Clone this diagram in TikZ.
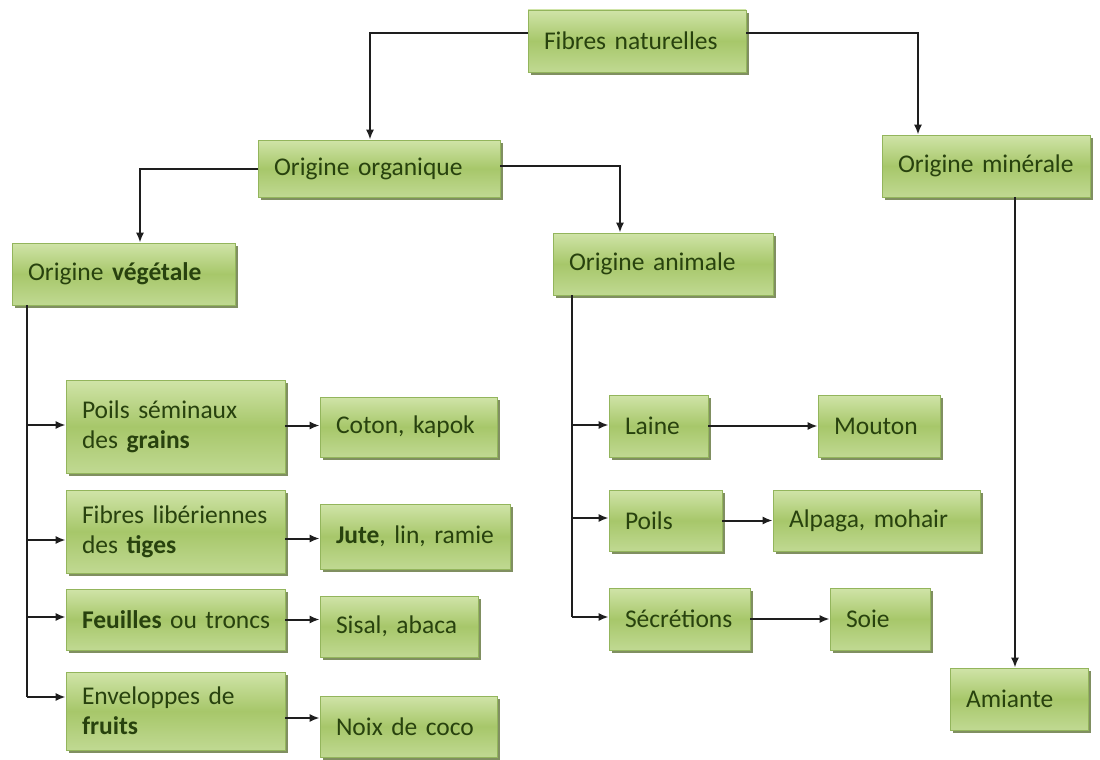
\documentclass[tikz,border=0pt]{standalone}
\usepackage{fontspec}
\setmainfont{Carlito}[WordSpace=0.7]
\usetikzlibrary{arrows.meta,shadows}
\definecolor{boxtop}{HTML}{D0E4A8}
\definecolor{boxmid}{HTML}{A7C76A}
\definecolor{boxbot}{HTML}{C0D992}
\definecolor{boxline}{HTML}{93B55C}
\definecolor{boxshadow}{HTML}{55692C}
\definecolor{boxtext}{HTML}{28420E}
\definecolor{wire}{HTML}{1E1E1E}
\tikzset{
  box/.style n args={2}{
    shade, top color=boxtop, bottom color=boxbot, middle color=boxmid,
    draw=boxline, line width=0.6pt,
    drop shadow={shadow xshift=3pt, shadow yshift=-3pt, fill=boxshadow, opacity=0.75},
    minimum width=#1, minimum height=#2, text width=#1-32pt,
    inner xsep=16pt, inner ysep=0pt, align=left,
    text=boxtext, font=\fontsize{25.5}{30}\selectfont
  },
  wire/.style={draw=wire, line width=2pt},
  arr/.style={wire, -{Latex[length=10pt,width=8pt]}}
}
\begin{document}
\begin{tikzpicture}[x=1pt,y=-1pt]
\useasboundingbox (0,0) rectangle (1100,760);

% top levels
\node[box={218pt}{62pt}] (fn)  at (637,41)    {Fibres naturelles};
\node[box={242pt}{57pt}] (org) at (379,168.5) {Origine organique};
\node[box={208pt}{62pt}] (min) at (986,166)   {Origine minérale};
\node[box={223pt}{62pt}] (veg) at (123.5,274) {Origine \textbf{végétale}};
\node[box={220pt}{62pt}] (ani) at (663,264)   {Origine animale};

% vegetable fibres
\node[box={219pt}{93pt}] (psg) at (175.5,426.5) {Poils séminaux\\des \textbf{grains}};
\node[box={177pt}{60pt}] (cot) at (408.5,427)   {Coton, kapok};
\node[box={219pt}{83pt}] (fli) at (175.5,531.5) {Fibres libériennes\\des \textbf{tiges}};
\node[box={190pt}{65pt}] (jut) at (415,536.5)   {\textbf{Jute}, lin, ramie};
\node[box={219pt}{61pt}] (feu) at (175.5,619.5) {\mbox{\textbf{Feuilles} ou troncs}};
\node[box={158pt}{61pt}] (sis) at (399,626.5)   {Sisal, abaca};
\node[box={219pt}{78pt}] (env) at (175.5,711)   {Enveloppes de\\\textbf{fruits}};
\node[box={177pt}{61pt}] (noi) at (408.5,726.5) {Noix de coco};

% animal fibres
\node[box={99pt}{62pt}]  (lai) at (658.5,426) {Laine};
\node[box={122pt}{62pt}] (mou) at (879,426)   {Mouton};
\node[box={113pt}{61pt}] (poi) at (665.5,520.5) {Poils};
\node[box={207pt}{61pt}] (alp) at (876.5,520.5) {Alpaga, mohair};
\node[box={141pt}{62pt}] (sec) at (679.5,619)   {Sécrétions};
\node[box={100pt}{62pt}] (soi) at (880,619)     {Soie};

% mineral fibres
\node[box={138pt}{62pt}] (ami) at (1019,699) {Amiante};

% upper tree
\draw[arr] ([yshift=8pt]fn.west) -| ([xshift=-9pt]org.north);
\draw[arr] ([yshift=8pt]fn.east) -| ([xshift=-68pt]min.north);
\draw[arr] (org.west) -| ([xshift=16.5pt]veg.north);
\draw[arr] ([yshift=3pt]org.east) -| ([xshift=-43pt]ani.north);
\draw[arr] ([xshift=-4pt]ami.north |- min.south) -- ([xshift=-4pt]ami.north);

% vegetable trunk and branches
\coordinate (vt) at (27,305);
\coordinate (v1) at (27,425);
\coordinate (v2) at (27,540);
\coordinate (v3) at (27,617);
\coordinate (v4) at (27,697);
\draw[wire] (vt) -- (v4);
\draw[arr] (v1) -- (v1 -| psg.west);
\draw[arr] (v2) -- (v2 -| fli.west);
\draw[arr] (v3) -- (v3 -| feu.west);
\draw[arr] (v4) -- (v4 -| env.west);

% animal trunk and branches
\coordinate (at) at (572,295);
\coordinate (a1) at (572,425);
\coordinate (a2) at (572,518);
\coordinate (a3) at (572,617);
\draw[wire] (at) -- (a3);
\draw[arr] (a1) -- (a1 -| lai.west);
\draw[arr] (a2) -- (a2 -| poi.west);
\draw[arr] (a3) -- (a3 -| sec.west);

% horizontal links
\draw[arr] ([yshift=1pt]psg.east) -- ([yshift=1pt]psg.east -| cot.west);
\draw[arr] ([yshift=-7pt]fli.east) -- ([yshift=-7pt]fli.east -| jut.west);
\draw[arr] (feu.east) -- (feu.east -| sis.west);
\draw[arr] ([yshift=-7pt]env.east) -- ([yshift=-7pt]env.east -| noi.west);
\draw[arr] (lai.east) -- (mou.west);
\draw[arr] (poi.east) -- (alp.west);
\draw[arr] (sec.east) -- (soi.west);
\end{tikzpicture}
\end{document}
